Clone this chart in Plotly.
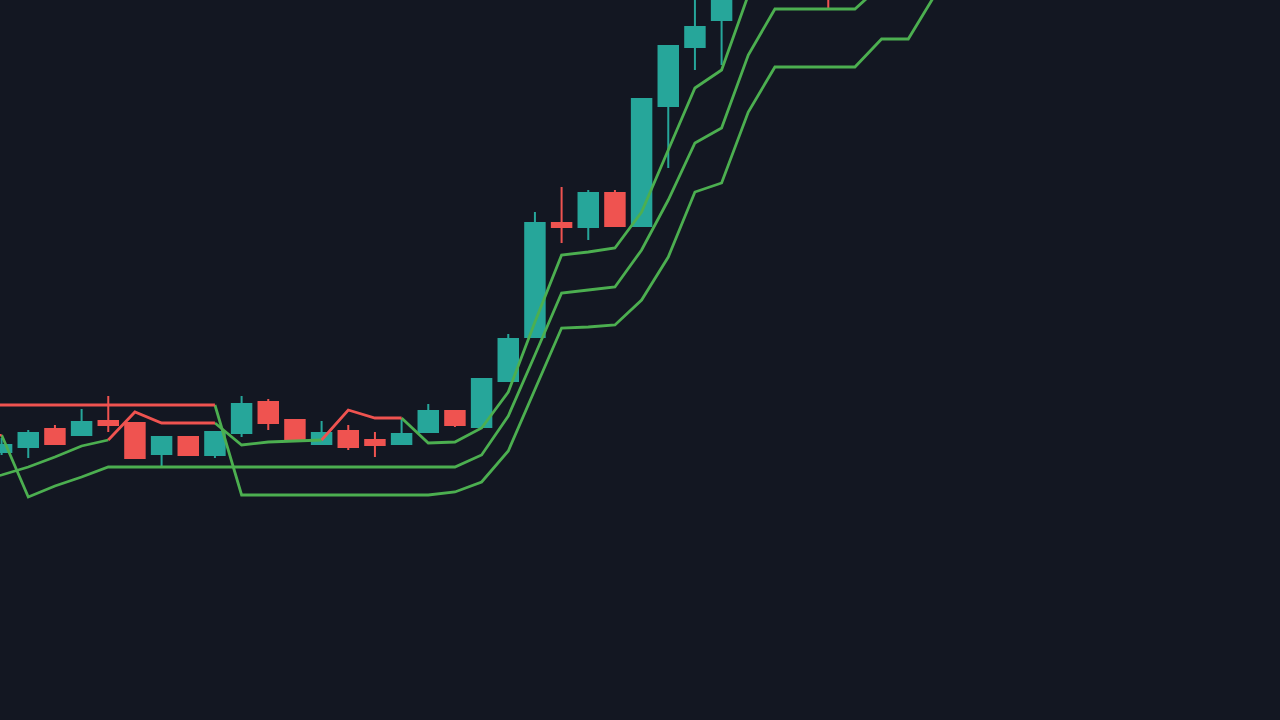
import plotly.graph_objects as go

# ---- data (price units; index = bar number) ----
bars = list(range(-1, 36))
opens  = [262, 268, 273, 291, 285, 299, 297, 266, 283, 265, 287, 318, 300, 276, 289, 280, 276, 288, 309,
          293, 339, 383, 497, 493, 527, 494, 614, 673, 700, 745, 790, 830, 850, 760, 800, 840, 820]
highs  = [272, 282, 290, 295, 311, 324, 298, 283, 283, 289, 324, 321, 300, 299, 295, 288, 302, 316, 309,
          342, 386, 508, 533, 530, 530, 621, 675, 725, 750, 800, 845, 870, 860, 815, 850, 860, 880]
lows   = [255, 265, 262, 276, 285, 288, 262, 253, 265, 262, 283, 290, 279, 276, 270, 263, 276, 288, 293,
          293, 339, 383, 477, 480, 493, 494, 552, 650, 655, 730, 775, 815, 712, 735, 790, 800, 810]
closes = [268, 275, 287, 276, 298, 295, 262, 283, 265, 288, 316, 297, 279, 287, 273, 275, 286, 309, 295,
          341, 381, 497, 493, 527, 494, 621, 674, 693, 740, 790, 830, 850, 740, 800, 840, 820, 870]

# three trailing-stop lines (fast, medium, slow) and their trend state (1 = up, -1 = down)
st_fast = [238, 245, 253, 263, 274, 280, 308, 297, 297, 297, 275, 278, 279, 280, 310, 302, 302, 277, 278,
           292, 328, 398, 465, 468, 472, 508, 570, 632, 650, 725, 770, 800, 800, 800, 820, 820, 840]
st_fast_dir = [1, 1, 1, 1, 1, 1, -1, -1, -1, -1, 1, 1, 1, 1, -1, -1, -1] + [1] * 20

st_mid = [288, 285, 223, 234, 243, 253, 253, 253, 253, 253, 253, 253, 253, 253, 253, 253, 253, 253, 253,
          265, 304, 365, 427, 430, 433, 470, 520, 577, 592, 665, 711, 711, 711, 711, 735, 760, 780]
st_mid_dir = [-1, -1] + [1] * 35

st_slow = [315, 315, 315, 315, 315, 315, 315, 315, 315, 315, 225, 225, 225, 225, 225, 225, 225, 225, 228,
           238, 269, 330, 392, 393, 395, 420, 463, 528, 537, 608, 653, 653, 653, 653, 681, 681, 725]
st_slow_dir = [-1] * 10 + [1] * 27

UP_COLOR = "#26a69a"
DOWN_COLOR = "#ef5350"
LINE_UP = "#4caf50"
LINE_DOWN = "#ef5350"
BG = "#131722"

fig = go.Figure()

fig.add_trace(go.Candlestick(
    x=bars, open=opens, high=highs, low=lows, close=closes,
    increasing=dict(line=dict(color=UP_COLOR, width=2), fillcolor=UP_COLOR),
    decreasing=dict(line=dict(color=DOWN_COLOR, width=2), fillcolor=DOWN_COLOR),
    whiskerwidth=0, hoverinfo="skip", showlegend=False,
))


def add_stop_line(vals, dirs):
    for want, color in ((1, LINE_UP), (-1, LINE_DOWN)):
        xs, ys = [], []
        for k in range(1, len(vals)):
            if dirs[k] == want:
                if xs and xs[-1] == bars[k - 1]:
                    xs.append(bars[k]); ys.append(vals[k])
                else:
                    if xs:
                        xs.append(None); ys.append(None)
                    xs += [bars[k - 1], bars[k]]
                    ys += [vals[k - 1], vals[k]]
        if xs:
            fig.add_trace(go.Scatter(x=xs, y=ys, mode="lines",
                                     line=dict(color=color, width=2.8),
                                     connectgaps=False, hoverinfo="skip",
                                     showlegend=False))


add_stop_line(st_fast, st_fast_dir)
add_stop_line(st_mid, st_mid_dir)
add_stop_line(st_slow, st_slow_dir)

fig.update_layout(
    width=1280, height=720,
    margin=dict(l=0, r=0, t=0, b=0),
    paper_bgcolor=BG, plot_bgcolor=BG,
    boxgap=0.27, boxgroupgap=0,
    showlegend=False,
    xaxis=dict(range=[-0.06, 47.94], visible=False, showgrid=False, zeroline=False,
               rangeslider=dict(visible=False), fixedrange=True),
    yaxis=dict(range=[0, 720], visible=False, showgrid=False, zeroline=False,
               fixedrange=True),
)

fig.write_html(
    "out.html",
    config={"displayModeBar": False},
    post_script="document.body.style.margin='0';document.body.style.padding='0';"
                "document.body.style.overflow='hidden';"
                "document.body.style.background='" + BG + "';",
)
